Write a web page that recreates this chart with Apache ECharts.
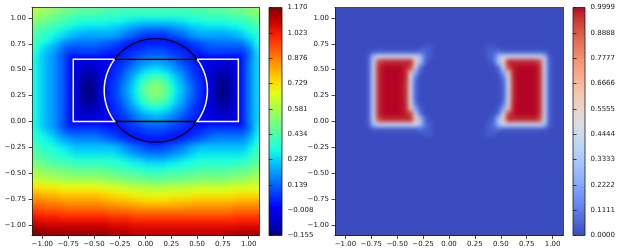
<!DOCTYPE html>
<html><head><meta charset="utf-8">
<script src="https://cdn.jsdelivr.net/npm/echarts@6/dist/echarts.min.js"></script>
<style>
html,body{margin:0;padding:0;background:#fff;}
#wrap{position:relative;width:618px;height:251px;}
#wrap>div{position:absolute;left:0;top:0;width:618px;height:251px;}
#soft{filter:blur(2.2px);clip-path:path('M33 8.5 H258 V235 H33 Z M336 8.5 H562 V235 H336 Z');}
</style>
</head><body><div id="wrap"><div id="base"></div><div id="soft"></div><div id="ink"></div></div>
<script>
// ---------- data ----------
// cell centres of the 44 x 44 grid (same for x and y)
const cellCentres = [-1.075,-1.025,-0.975,-0.925,-0.875,-0.825,-0.775,-0.725,-0.675,-0.625,-0.575,-0.525,-0.475,-0.425,-0.375,-0.325,-0.275,-0.225,-0.175,-0.125,-0.075,-0.025,0.025,0.075,0.125,0.175,0.225,0.275,0.325,0.375,0.425,0.475,0.525,0.575,0.625,0.675,0.725,0.775,0.825,0.875,0.925,0.975,1.025,1.075];
const axisTicks = [-1, -0.75, -0.5, -0.25, 0, 0.25, 0.5, 0.75, 1];
const axisTickLabels = ['\u22121.00','\u22120.75','\u22120.50','\u22120.25','0.00','0.25','0.50','0.75','1.00'];
const potentialMin = -0.155, potentialMax = 1.17;
const potentialBarLabels = ['\u22120.155','\u22120.008','0.139','0.287','0.434','0.581','0.729','0.876','1.023','1.170'];
const fractionMin = 0, fractionMax = 0.9999;
const fractionBarLabels = ['0.0000','0.1111','0.2222','0.3333','0.4444','0.5555','0.6666','0.7777','0.8888','0.9999'];
const rectBox = [-0.7, 0, 0.9, 0.6];          // xmin, ymin, xmax, ymax
const circleCentre = [0.1, 0.3];
const circleRadius = 0.5;

// left panel: colour level 0..35 (0 = -0.155, 35 = 1.170), rows from top (y=1.075) to bottom
const potentialLevels = [
[20,19.5,19,18.5,18,17.5,17,17,16.5,16.5, 16,16,16,16,15.5,15.5,15,15,15,15, 15,15,15,15,15,15,15,15,15,15, 15,15.5,15.5,15.5,16,16,16,16.5,16.5,17, 17,17.5,18,18.5],
[19,18.5,18,17.5,17,16.5,16,15.5,15.5,15, 15,15,15,14.5,14.5,14.5,14.5,14,14,14, 14,14,14,14,14,14,14,14,14,14, 14.5,14.5,14.5,14.5,15,15,15,15,15.5,15.5, 16,16.5,17,17.5],
[18,17.5,17,16.5,16,15.5,15,14.5,14,14, 13.5,13.5,13.5,13.5,13.5,13,13,13,12.5,12.5, 12,12,12,12,12,12,12,12,12.5,12.5, 13,13,13,13.5,13.5,13.5,13.5,14,14,14.5, 14.5,15,15.5,16.5],
[17,16.5,16,15.5,15,14.5,14,13.5,13,12.5, 12.5,12.5,12.5,12.5,12.5,12,12,11.5,11,10.5, 10.5,10,10,10,10,10,10,10.5,10.5,11, 11.5,12,12,12.5,12.5,12.5,12.5,12.5,13,13, 13.5,14,14.5,15.5],
[16,15.5,15,14.5,13.5,13,12.5,12,11.5,11.5, 11,11,11,11,11,11,10.5,10,9.5,9, 8.5,8,7.5,7.5,7.5,7.5,8,8.5,9,9.5, 10,10.5,11,11,11,11,11,11,11.5,11.5, 12,13,13.5,14.5],
[15.5,14.5,14,13.5,12.5,12,11.5,11,10.5,10, 10,10,10,10,10,10,9.5,9,8,7.5, 7,6.5,6,6,6,6,6.5,7,7.5,8, 9,9.5,10,10,10,10,10,10,10,10.5, 11,12,12.5,13.5],
[15,14,13.5,12.5,11.5,10.5,9.5,9,8.5,8.5, 8.5,8.5,8.5,8,8,7.5,7,6.5,6,5.5, 5,5,5,5,5,5,5,5,5.5,6, 6.5,7,7.5,8,8,8.5,8.5,8.5,8.5,8.5, 9,10,11.5,13],
[14.5,13,12,11,10,9,8,7.5,7.5,7.5, 7.5,7.5,7.5,7,7,6.5,6,5.5,5,5, 5.5,5.5,6,6,6,6,5.5,5.5,5,5, 5.5,6,6.5,7,7.5,7.5,7.5,7.5,7.5,7.5, 7.5,8.5,10,12.5],
[14,12.5,11.5,10.5,9.5,8.5,7,6.5,6.5,6.5, 6.5,6.5,6.5,6,6,5.5,5.5,5,5.5,6, 6,6.5,7,7,7,7,6.5,6,6,5.5, 5,5.5,5.5,6,6.5,6.5,6.5,6.5,6.5,6.5, 6.5,7.5,9,12],
[13.5,12,11,10,9,7.5,6.5,5,5,5, 5,5,5,5,4.5,4.5,5,5.5,6,6.5, 7,7.5,8,8,8,8,7.5,7,6.5,6, 5.5,5,4.5,4.5,5,5,5,5,5,5, 5,7,9,11.5],
[13,12,11,10,9,8,6.5,5,3.5,3, 3,3,3.5,3.5,4,4.5,5.5,6,6.5,7.5, 8.5,9,9.5,10,10,9.5,9,8.5,7.5,6.5, 6,5.5,4.5,4,3.5,3.5,3,3,3,3.5, 5,7.5,9.5,11.5],
[13,12,11,10,9,8,6.5,5,3,2.5, 2,2,2.5,3,4,5.5,6,6.5,7.5,8.5, 9.5,10.5,11,11.5,11.5,11,10.5,9.5,8.5,7.5, 6.5,6,5.5,4,3,2.5,2,2,2.5,3, 5,7.5,9.5,11.5],
[13,12,11,10,9,8,6.5,5,3,2, 1.5,1.5,2,3,4,5.5,6,7,8.5,9.5, 10.5,12,12.5,13,13,12.5,12,10.5,9.5,8.5, 7,6,5.5,4,3,2,1.5,1.5,2,3, 5,7.5,9.5,11.5],
[13,12,11,10,9,8,6.5,5,3,1.5, 1,1,1.5,3,5,5.5,6.5,7.5,9,10.5, 12,13,14.5,15.5,15.5,14.5,13,12,10.5,9, 7.5,6.5,5.5,5,3,1.5,1,1,1.5,3, 5,7.5,9.5,11.5],
[13,12,11,10,9,8,6.5,5,3,1.5, 0.5,0.5,1.5,3,5,6,7,8,9.5,11, 12.5,14.5,16,17,17,16,14.5,12.5,11,9.5, 8,7,6,5,3,1.5,0.5,0.5,1.5,3, 5,7.5,9.5,11.5],
[13,12,11,10,9,8,6.5,5,3,1.5, 0,0,1.5,3,5,6,7,8.5,10,11.5, 13,15.5,17,18,18,17,15.5,13,11.5,10, 8.5,7,6,5,3,1.5,0,0,1.5,3, 5,7.5,9.5,11.5],
[13,12,11,10,9,8,6.5,5,3,1.5, 0,0,1.5,3,5,6,7,8.5,10,11.5, 13,15.5,17,18,18,17,15.5,13,11.5,10, 8.5,7,6,5,3,1.5,0,0,1.5,3, 5,7.5,9.5,11.5],
[13,12,11,10,9,8,6.5,5,3,1.5, 0.5,0.5,1.5,3,5,6,7,8,9.5,11, 12.5,14.5,16,17,17,16,14.5,12.5,11,9.5, 8,7,6,5,3,1.5,0.5,0.5,1.5,3, 5,7.5,9.5,11.5],
[13,12,11,10,9,8,6.5,5,3,1.5, 1,1,1.5,3,5,5.5,6.5,7.5,9,10.5, 12,13,14.5,15.5,15.5,14.5,13,12,10.5,9, 7.5,6.5,5.5,5,3,1.5,1,1,1.5,3, 5,7.5,9.5,11.5],
[13,12,11,10,9,8,6.5,5,3,2, 1.5,1.5,2,3,4,5.5,6,7,8.5,9.5, 10.5,12,12.5,13,13,12.5,12,10.5,9.5,8.5, 7,6,5.5,4,3,2,1.5,1.5,2,3, 5,7.5,9.5,11.5],
[13,12,11,10,9,8,6.5,5,3,2.5, 2,2,2.5,3,4,5.5,6,6.5,7.5,8.5, 9.5,10.5,11,11.5,11.5,11,10.5,9.5,8.5,7.5, 6.5,6,5.5,4,3,2.5,2,2,2.5,3, 5,7.5,9.5,11.5],
[13,12,11,10,9,8,6.5,5,3.5,3, 3,3,3.5,3.5,4,4.5,5.5,6,6.5,7.5, 8.5,9,9.5,10,10,9.5,9,8.5,7.5,6.5, 6,5.5,4.5,4,3.5,3.5,3,3,3,3.5, 5,7.5,9.5,11.5],
[13,12,11,10,9,7.5,6.5,5,5,5, 5,5,5,5,4.5,4.5,5,5.5,6,6.5, 7,7.5,8,8,8,8,7.5,7,6.5,6, 5.5,5,4.5,4.5,5,5,5,5,5,5, 5,7,9,12],
[13.5,12.5,11.5,10.5,9.5,8.5,7,6.5,6.5,6.5, 6.5,6.5,6.5,6,6,5.5,5.5,5,5.5,6, 6,6.5,7,7,7,7,6.5,6,6,5.5, 5,5.5,5.5,6,6.5,6.5,6.5,6.5,6.5,6.5, 6.5,7.5,9,12],
[14,13,12.5,11.5,10.5,9.5,8.5,8,8,8, 8,8,8,7.5,7,6.5,6,5.5,5,5, 5.5,5.5,6,6,6,6,5.5,5.5,5,5, 5.5,6,6.5,7,7.5,8,8,8,8,8, 8,9,10.5,12.5],
[14,13.5,13,12.5,11.5,10.5,10,9.5,9,9, 9,9,9,8.5,8,7.5,7,6.5,6,5.5, 5,5,5,5,5,5,5,5,5.5,6, 6.5,7,7.5,8,8.5,9,9,9,9,9, 9,10,11,13],
[15,14,13.5,13,12.5,12,11.5,11,10.5,10.5, 10.5,10.5,10.5,10.5,10.5,10,9.5,9,8,7.5, 7,6.5,6,5.5,5.5,6,6.5,7,7.5,8, 9,9.5,10,10.5,10.5,10.5,10.5,10.5,10.5,10.5, 10.5,11,12,14],
[15.5,15,14.5,14,13.5,13,12.5,12,11.5,11.5, 11.5,11.5,11.5,11.5,11.5,11.5,11,10.5,9.5,9, 8.5,8,7.5,7.5,7.5,7.5,8,8.5,9,9.5, 10.5,11,11.5,11.5,11.5,11.5,11.5,11.5,11.5,11.5, 11.5,12,13,14.5],
[16,15.5,15,14.5,14,13.5,13.5,13,12.5,12.5, 12.5,12.5,12.5,12.5,12.5,12.5,12,11.5,11,10.5, 10,9.5,9,9,9,9,9.5,10,10.5,11, 11.5,12,12.5,12.5,12.5,12.5,12.5,12.5,12.5,12.5, 12.5,13,14,15.5],
[17,16.5,16,15.5,15,15,14.5,14.5,14,14, 14,14,14,14,14,13.5,13.5,13,12.5,12, 12,11.5,11,11,11,11,11.5,11.5,12,12.5, 13,13,13.5,13.5,13.5,13.5,13.5,13.5,13.5,13.5, 14,14.5,15,16],
[18,17.5,17,16.5,16,16,15.5,15.5,15,15, 15,15,15,15,15,14.5,14.5,14,14,13.5, 13,13,12.5,12.5,12.5,12.5,13,13,13.5,13.5, 14,14,14.5,14.5,14.5,14.5,14.5,14.5,14.5,15, 15,15.5,16,17],
[19,18.5,18,18,17.5,17,17,17,16.5,16.5, 16.5,16.5,16.5,16.5,16,16,15.5,15.5,15,15, 14.5,14.5,14,14,14,14,14.5,14.5,14.5,15, 15,15,15.5,15.5,15.5,15.5,15.5,15.5,16,16, 16.5,16.5,17,18],
[20,19.5,19.5,19,19,18.5,18.5,18.5,18,18, 18,18,18,18,17.5,17.5,17,17,16.5,16.5, 16,16,15.5,15.5,15.5,15.5,16,16,16,16.5, 16.5,16.5,17,17,17,17,17,17,17.5,17.5, 18,18,18.5,19],
[21.5,21,21,20.5,20.5,20.5,20,20,20,20, 20,20,20,19.5,19.5,19,19,18.5,18.5,18, 18,18,17.5,17.5,17.5,17.5,17.5,18,18,18, 18,18.5,18.5,18.5,18.5,18.5,18.5,18.5,19,19, 19.5,19.5,20,20.5],
[23,23,22.5,22.5,22.5,22,22,22,22,22, 22,22,22,21.5,21.5,21,21,20.5,20.5,20, 20,20,19.5,19.5,19.5,19.5,19.5,20,20,20, 20,20.5,20.5,20.5,20.5,20.5,20.5,20.5,21,21, 21,21,21.5,21.5],
[24.5,24.5,24,24,24,23.5,23.5,23.5,23.5,23.5, 23.5,23.5,23.5,23,23,22.5,22.5,22,22,21.5, 21.5,21.5,21,21,21,21,21,21.5,21.5,21.5, 21.5,22,22,22,22,22,22,22,22,22.5, 22.5,22.5,22.5,22.5],
[26,26,25.5,25.5,25.5,25,25,25,25,25, 25,25,25,24.5,24.5,24,24,23.5,23.5,23, 23,23,22.5,22.5,22.5,22.5,22.5,23,23,23, 23,23.5,23.5,23.5,23.5,23.5,23.5,23.5,23.5,24, 24,24,24,24],
[27,27,27,26.5,26.5,26.5,26,26,26,26, 26,26,26,26,25.5,25.5,25,25,25,24.5, 24.5,24,24,24,24,24,24,24.5,24.5,24.5, 24.5,25,25,25,25,25,25,25,25,25, 25.5,25.5,25.5,25.5],
[28.5,28.5,28,28,28,28,27.5,27.5,27.5,27.5, 27.5,27.5,27.5,27.5,27,27,27,26.5,26.5,26.5, 26,26,26,26,26,26,26,26,26,26.5, 26.5,26.5,26.5,26.5,26.5,26.5,26.5,26.5,26.5,27, 27,27,27,27],
[30,30,29.5,29.5,29.5,29.5,29,29,29,29, 29,29,29,29,29,28.5,28.5,28.5,28.5,28, 28,28,28,28,28,28,28,28,28,28, 28,28,28,28,28,28,28,28,28,28.5, 28.5,28.5,28.5,28.5],
[31.5,31,31,31,31,30.5,30.5,30.5,30.5,30.5, 30.5,30.5,30.5,30.5,30.5,30,30,30,30,29.5, 29.5,29.5,29.5,29.5,29.5,29.5,29.5,29.5,29.5,29.5, 29.5,29.5,29.5,29.5,29.5,29.5,29.5,29.5,29.5,30, 30,30,30,30],
[32.5,32.5,32,32,32,32,32,32,32,32, 32,32,32,32,32,31.5,31.5,31.5,31.5,31, 31,31,31,31,31,31,31,31,31,31, 31,31,31,31,31,31,31,31,31,31, 31,31,31,31],
[34,33.5,33.5,33,33,33,33,33,33,33, 33,33,33,33,33,32.5,32.5,32.5,32.5,32, 32,32,32,32,32,32,32,32,32,32, 32,32,32,32,32,32,32,32,32,32, 32.5,32.5,32.5,32.5],
[35,34.5,34.5,34,34,34,34,34,34,34, 34,34,34,34,34,33.5,33.5,33.5,33.5,33, 33,33,33,33,33,33,33,33,33,33, 33,33,33,33,33,33,33,33,33,33.5, 33.5,33.5,33.5,33.5]
];

// right panel: one character per cell, decoded through fractionCodes; rows from top to bottom
const fractionCodes = {'0':0, a:0.03, b:0.05, c:0.07, d:0.1, e:0.22, f:0.3, g:0.42, h:0.47, i:0.62, j:0.93, k:0.97, l:0.98, m:0.9999};
const fractionRows = [
'00000000000000000000000000000000000000000000',
'00000000000000000000000000000000000000000000',
'00000000000000000000000000000000000000000000',
'00000000000000000000000000000000000000000000',
'00000000000000000000000000000000000000000000',
'00000000000000000000000000000000000000000000',
'00000000000000000000000000000000000000000000',
'00000000000000000' + 'aa' + '0000000000' + 'aa' + '0000000000000',
'0000000' + 'aaaaaaaaa' + 'cba' + '0000000000' + 'abc' + 'aaaaaaaaa' + '000',
'000000' + 'af' + 'gggggggg' + 'fca' + '0000000000' + 'acf' + 'gggggggg' + 'fa' + '00',
'000000' + 'agj' + 'kkkkkk' + 'ifb' + '000000000000' + 'bfi' + 'kkkkkk' + 'jga' + '00',
'000000' + 'agk' + 'mmmm' + 'ljgc' + '00000000000000' + 'cgjl' + 'mmmm' + 'kga' + '00',
'000000' + 'agk' + 'mmmm' + 'liea' + '00000000000000' + 'aeil' + 'mmmm' + 'kga' + '00',
'000000' + 'agk' + 'mmmm' + 'lhd0' + '00000000000000' + '0dhl' + 'mmmm' + 'kga' + '00',
'000000' + 'agk' + 'mmmm' + 'khb0' + '00000000000000' + '0bhk' + 'mmmm' + 'kga' + '00',
'000000' + 'agk' + 'mmmm' + 'khb0' + '00000000000000' + '0bhk' + 'mmmm' + 'kga' + '00',
'000000' + 'agk' + 'mmmm' + 'khb0' + '00000000000000' + '0bhk' + 'mmmm' + 'kga' + '00',
'000000' + 'agk' + 'mmmm' + 'khb0' + '00000000000000' + '0bhk' + 'mmmm' + 'kga' + '00',
'000000' + 'agk' + 'mmmm' + 'lhd0' + '00000000000000' + '0dhl' + 'mmmm' + 'kga' + '00',
'000000' + 'agk' + 'mmmm' + 'liea' + '00000000000000' + 'aeil' + 'mmmm' + 'kga' + '00',
'000000' + 'agk' + 'mmmm' + 'ljgc' + '00000000000000' + 'cgjl' + 'mmmm' + 'kga' + '00',
'000000' + 'agj' + 'kkkkkk' + 'ifb' + '000000000000' + 'bfi' + 'kkkkkk' + 'jga' + '00',
'000000' + 'af' + 'gggggggg' + 'fca' + '0000000000' + 'acf' + 'gggggggg' + 'fa' + '00',
'0000000' + 'aaaaaaaaa' + 'cba' + '0000000000' + 'abc' + 'aaaaaaaaa' + '000',
'00000000000000000' + 'aa' + '0000000000' + 'aa' + '0000000000000',
'00000000000000000000000000000000000000000000',
'00000000000000000000000000000000000000000000',
'00000000000000000000000000000000000000000000',
'00000000000000000000000000000000000000000000',
'00000000000000000000000000000000000000000000',
'00000000000000000000000000000000000000000000',
'00000000000000000000000000000000000000000000',
'00000000000000000000000000000000000000000000',
'00000000000000000000000000000000000000000000',
'00000000000000000000000000000000000000000000',
'00000000000000000000000000000000000000000000',
'00000000000000000000000000000000000000000000',
'00000000000000000000000000000000000000000000',
'00000000000000000000000000000000000000000000',
'00000000000000000000000000000000000000000000',
'00000000000000000000000000000000000000000000',
'00000000000000000000000000000000000000000000',
'00000000000000000000000000000000000000000000',
'00000000000000000000000000000000000000000000'
];

// ---------- colour maps (style) ----------
const jet = ['#000080','#0000c8','#0000ff','#0040ff','#0080ff','#00bfff','#15ffe2','#48ffaf','#7bff7b','#afff48','#e2ff15','#ffd200','#ff9700','#ff5c00','#ff2100','#c80000','#800000'];
const coolwarm = ['#3b4cc0','#445acc','#4d68d7','#5775e1','#6282ea','#6c8ef1','#779af7','#82a5fb','#8db0fe','#98b9ff','#a3c2ff','#aec9fd','#b8d0f9','#c2d5f4','#ccd9ee','#d5dbe6','#dddddd','#e5d8d1','#ecd3c5','#f1ccb9','#f5c4ad','#f7bba0','#f7b194','#f7a687','#f49a7b','#f18d6f','#ec7f63','#e57058','#de604d','#d55042','#cb3e38','#c0282f','#b40426'];

// ---------- build series data ----------
const nCells = cellCentres.length;
const potentialData = [];
potentialLevels.forEach((row, r) => row.forEach((lv, c) => {
  potentialData.push([c, nCells - 1 - r, potentialMin + lv * (potentialMax - potentialMin) / 35]);
}));
const fractionData = [];
fractionRows.forEach((row, r) => { for (let c = 0; c < row.length; c++) {
  fractionData.push([c, nCells - 1 - r, fractionCodes[row[c]]]);
}});

// ---------- layout ----------
const INK = '#1a1a1a';
const font = {fontFamily: 'DejaVu Sans', fontSize: 7, color: INK};
const gridL = {left: 32, top: 7.5, width: 227, height: 228};
const gridR = {left: 335, top: 7.5, width: 228, height: 228};
const gridCB1 = {left: 269, top: 7.5, width: 13, height: 228};
const gridCB2 = {left: 573, top: 7.5, width: 13, height: 228};

function catAxis(gi) { return {type: 'category', gridIndex: gi, data: cellCentres, show: false}; }
function tickLabel(v) {
  const i = axisTicks.findIndex(t => Math.abs(t - v) < 1e-6);
  return i >= 0 ? axisTickLabels[i] : '';
}
function valAxis(gi, pos, withLabels, visible) {
  return {type: 'value', gridIndex: gi, position: pos, min: -1.1, max: 1.1, z: 10, show: visible !== false,
    axisLine: {show: true, onZero: false, lineStyle: {color: INK, width: 0.8}},
    axisTick: {show: withLabels, length: 3.5, customValues: axisTicks, lineStyle: {color: INK, width: 0.8}},
    axisLabel: Object.assign({show: withLabels, customValues: axisTicks, margin: (pos === 'left' ? 6 : 5), formatter: tickLabel}, font),
    splitLine: {show: false}};
}
function barXAxis(gi) { return {type: 'value', gridIndex: gi, min: 0, max: 1, show: false}; }
function barYAxis(gi, labels) {
  return {type: 'value', gridIndex: gi, position: 'right', min: 0, max: labels.length - 1, interval: 1, z: 10,
    axisLine: {show: false},
    axisTick: {show: true, length: 3.5, lineStyle: {color: INK, width: 0.8}},
    axisLabel: Object.assign({margin: 5.5, formatter: v => labels[Math.round(v)]}, font),
    splitLine: {show: false}};
}
function barSeries(ai, colors) {
  return {type: 'custom', xAxisIndex: ai, yAxisIndex: ai, data: [0], silent: true, z: 5,
    renderItem: (params, api) => {
      const top = api.coord([0, 9]); const bot = api.coord([1, 0]);
      const stops = colors.map((c, i) => ({offset: i / (colors.length - 1), color: c}));
      return {type: 'rect', shape: {x: top[0], y: top[1], width: bot[0] - top[0], height: bot[1] - top[1]},
        style: {fill: new echarts.graphic.LinearGradient(0, 1, 0, 0, stops), stroke: INK, lineWidth: 0.8}};
    }};
}
// one rectangle per grid cell, coloured by the visualMap
function cellSeries(ai, data) {
  return {type: 'custom', xAxisIndex: ai, yAxisIndex: ai, data: data, silent: true, z: 1, progressive: 0,
    renderItem: (params, api) => {
      const p = api.coord([api.value(0), api.value(1)]);
      const s = api.size([1, 1]);
      const x0 = Math.round(p[0] - s[0] / 2), x1 = Math.round(p[0] + s[0] / 2);
      const y0 = Math.round(p[1] - s[1] / 2), y1 = Math.round(p[1] + s[1] / 2);
      return {type: 'rect', shape: {x: x0, y: y0, width: x1 - x0, height: y1 - y0}, style: {fill: api.visual('color')}};
    }};
}

const cx = circleCentre[0], cy = circleCentre[1], rr = circleRadius;
const halfChord = y => Math.sqrt(rr * rr - (y - cy) * (y - cy));
function arcPoints(api, a0, a1, n) {
  const pts = [];
  for (let k = 0; k <= n; k++) { const a = a0 + (a1 - a0) * k / n; pts.push(api.coord([cx + rr * Math.cos(a), cy + rr * Math.sin(a)])); }
  return pts;
}
function blackLines(ai) {
  return {type: 'custom', xAxisIndex: ai, yAxisIndex: ai, data: [0], silent: true, z: 6,
    renderItem: (params, api) => {
      const st = {stroke: '#000', lineWidth: 1.3, fill: 'none'};
      const [x0, y0, x1, y1] = rectBox;
      const chord = y => [api.coord([cx - halfChord(y), y]), api.coord([cx + halfChord(y), y])];
      return {type: 'group', children: [
        {type: 'polyline', shape: {points: arcPoints(api, 0, 2 * Math.PI, 240)}, style: st},
        {type: 'polyline', shape: {points: chord(y0)}, style: st},
        {type: 'polyline', shape: {points: chord(y1)}, style: st}
      ]};
    }};
}
function whiteLines(ai) {
  return {type: 'custom', xAxisIndex: ai, yAxisIndex: ai, data: [0], silent: true, z: 7,
    renderItem: (params, api) => {
      const st = {stroke: '#fff', lineWidth: 1.5, fill: 'none', lineJoin: 'miter'};
      const [x0, y0, x1, y1] = rectBox;
      const xlT = cx - halfChord(y1), xlB = cx - halfChord(y0);
      const xrT = cx + halfChord(y1), xrB = cx + halfChord(y0);
      const ang = (x, y) => Math.atan2(y - cy, x - cx);
      const left = [[xlT, y1], [x0, y1], [x0, y0], [xlB, y0]].map(p => api.coord(p))
        .concat(arcPoints(api, ang(xlB, y0) + 2 * Math.PI, ang(xlT, y1), 60));
      const right = [[xrT, y1], [x1, y1], [x1, y0], [xrB, y0]].map(p => api.coord(p))
        .concat(arcPoints(api, ang(xrB, y0), ang(xrT, y1), 60));
      return {type: 'group', children: [
        {type: 'polyline', shape: {points: left}, style: st},
        {type: 'polyline', shape: {points: right}, style: st}
      ]};
    }};
}

// base layer: sharp cells, axes, colour bars
const baseOption = {
  animation: false,
  backgroundColor: '#fff',
  grid: [gridL, gridL, gridCB1, gridR, gridR, gridCB2],
  xAxis: [catAxis(0), valAxis(1, 'bottom', true), valAxis(1, 'top', false), barXAxis(2),
          catAxis(3), valAxis(4, 'bottom', true), valAxis(4, 'top', false), barXAxis(5)],
  yAxis: [catAxis(0), valAxis(1, 'left', true), valAxis(1, 'right', false), barYAxis(2, potentialBarLabels),
          catAxis(3), valAxis(4, 'left', true), valAxis(4, 'right', false), barYAxis(5, fractionBarLabels)],
  visualMap: [
    {type: 'continuous', show: false, seriesIndex: 0, dimension: 2, min: potentialMin, max: potentialMax, inRange: {color: jet}},
    {type: 'continuous', show: false, seriesIndex: 2, dimension: 2, min: fractionMin, max: fractionMax, inRange: {color: coolwarm}}
  ],
  series: [cellSeries(0, potentialData), barSeries(3, jet), cellSeries(4, fractionData), barSeries(7, coolwarm)]
};
// soft layer: same cells, shown through a blur (smooth shading like the original image)
const softOption = {
  animation: false,
  backgroundColor: 'transparent',
  grid: [gridL, gridR],
  xAxis: [catAxis(0), catAxis(1)],
  yAxis: [catAxis(0), catAxis(1)],
  visualMap: [
    {type: 'continuous', show: false, seriesIndex: 0, dimension: 2, min: potentialMin, max: potentialMax, inRange: {color: jet}},
    {type: 'continuous', show: false, seriesIndex: 1, dimension: 2, min: fractionMin, max: fractionMax, inRange: {color: coolwarm}}
  ],
  series: [cellSeries(0, potentialData), cellSeries(1, fractionData)]
};
// ink layer: region outlines on top
const inkOption = {
  animation: false,
  backgroundColor: 'transparent',
  grid: [gridL],
  xAxis: [valAxis(0, 'bottom', false, false)],
  yAxis: [valAxis(0, 'left', false, false)],
  series: [blackLines(0), whiteLines(0)]
};
const opts = {renderer: 'canvas', width: 618, height: 251};
echarts.init(document.getElementById('base'), null, opts).setOption(baseOption);
echarts.init(document.getElementById('soft'), null, opts).setOption(softOption);
echarts.init(document.getElementById('ink'), null, opts).setOption(inkOption);
</script>
</body></html>
